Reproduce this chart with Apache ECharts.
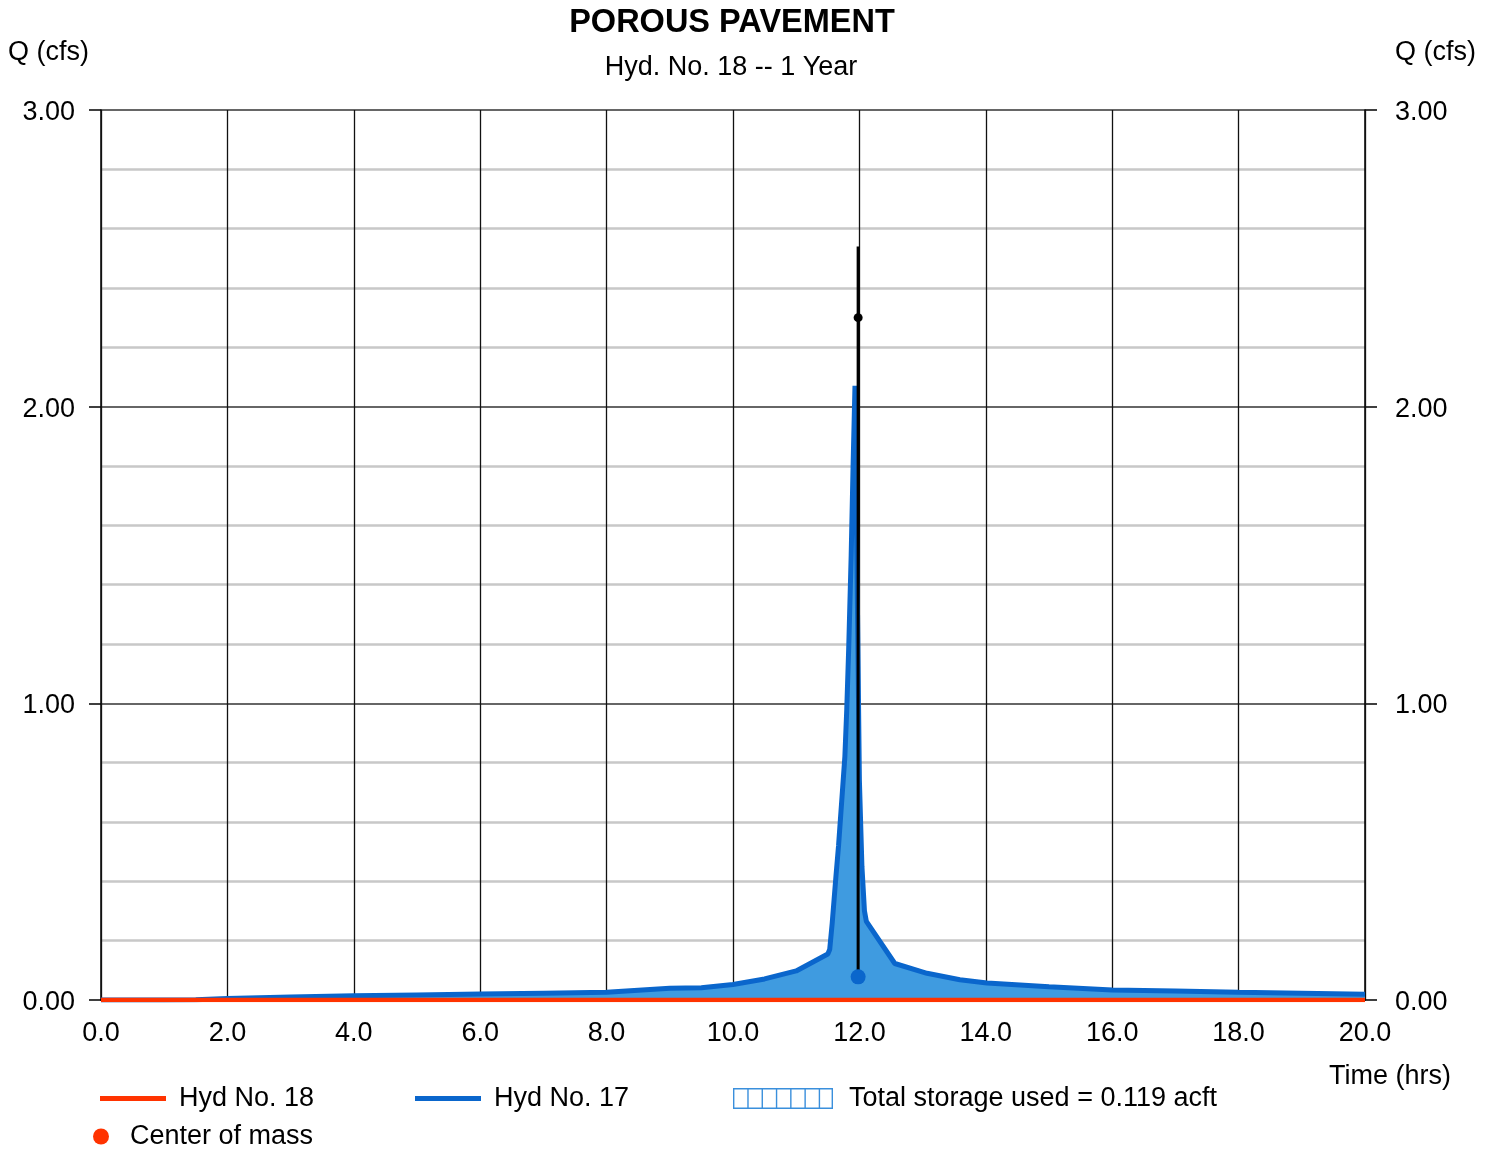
<!DOCTYPE html>
<html>
<head>
<meta charset="utf-8">
<title>POROUS PAVEMENT</title>
<script src="https://cdn.jsdelivr.net/npm/echarts@6/dist/echarts.min.js"></script>
<style>
  html, body { margin: 0; padding: 0; background: #ffffff; }
  #chart { width: 1492px; height: 1149px; }
</style>
</head>
<body>
<div id="chart"></div>
<script>
// Hydrograph time steps (hrs)
const timeHrs = [0, 1.0, 1.5, 2.0, 3.0, 4.0, 5.0, 6.0, 7.0, 8.0, 8.5, 9.0, 9.5, 10.0, 10.5, 11.0,
  11.5, 11.53, 11.57, 11.6, 11.63, 11.67, 11.7, 11.73, 11.77, 11.8, 11.83, 11.87, 11.9, 11.93,
  11.96, 12.0, 12.04, 12.08, 12.11, 12.56, 13.07, 13.59, 14.02, 15.0, 16.0, 17.0, 18.0, 19.0, 20.0];

// Hyd No. 17 - inflow to the pavement (cfs)
const inflowCfs = [0, 0, 0.001, 0.005, 0.010, 0.014, 0.017, 0.020, 0.023, 0.026, 0.033, 0.040, 0.041, 0.052, 0.071, 0.098,
  0.155, 0.17, 0.26, 0.34, 0.42, 0.52, 0.61, 0.70, 0.82, 0.98, 1.18, 1.50, 1.80, 2.07,
  1.50, 0.74, 0.45, 0.30, 0.265, 0.123, 0.090, 0.068, 0.057, 0.045, 0.034, 0.030, 0.026, 0.023, 0.019];

// Hyd No. 18 - outflow from the pavement (cfs)
const outflowCfs = timeHrs.map(() => 0);

// Vertical peak marker: time, bottom, top, dot (cfs)
const markerTime = [11.98];
const markerRange = [0.08, 2.54];
const markerDot = [2.30];
const centroidQ = [0.078];

const FONT = 'Liberation Sans, Arial, Helvetica, sans-serif';
const FS = 27;
const BLUE = '#0a66cc';
const FILL = '#3f9be0';
const RED = '#ff3300';
const HATCH = '#3a8fdc';

const pairs = (xs, ys) => xs.map((x, i) => [x, ys[i]]);

// hatched box used as the storage legend symbol
function hatchIcon() {
  const w = 100, h = 21, t = 1.4;
  let p = `M0,0H${w}V${t}H0Z M0,${h - t}H${w}V${h}H0Z `;
  const n = 7;
  for (let i = 0; i <= n; i++) {
    const x = Math.min(i * w / n, w - t);
    p += `M${x},0H${x + t}V${h}H${x}Z `;
  }
  return 'path://' + p;
}

const chart = echarts.init(document.getElementById('chart'), null, { renderer: 'canvas' });

const legendText = pad => ({ fontFamily: FONT, fontSize: FS, color: '#000', padding: [0, 0, 0, pad] });
const legendAt = (left, top, w, h, pad, item) => ({
  orient: 'horizontal', padding: 0, selectedMode: false,
  left, top, itemWidth: w, itemHeight: h,
  textStyle: legendText(pad),
  data: [item]
});

// y tick labels, nudged slightly below the tick centre
const yLabel = margin => ({
  fontFamily: FONT, fontSize: FS, color: '#000', margin,
  formatter: v => '{v|' + v.toFixed(2) + '}',
  rich: { v: { fontFamily: FONT, fontSize: FS, color: '#000', padding: [5, 0, 0, 0] } }
});

const option = {
  animation: false,
  backgroundColor: '#ffffff',
  textStyle: { fontFamily: FONT },
  grid: { left: 101, right: 127, top: 110, bottom: 149, containLabel: false },
  xAxis: {
    type: 'value',
    min: 0, max: 20, interval: 2,
    z: 1,
    axisLine: { show: true, lineStyle: { color: '#000', width: 1.5 } },
    axisTick: { show: false },
    axisLabel: {
      fontFamily: FONT, fontSize: FS, color: '#000', margin: 20,
      formatter: v => v.toFixed(1)
    },
    splitLine: { show: true, lineStyle: { color: '#111', width: 1.3 } }
  },
  yAxis: [
    {
      type: 'value', position: 'left',
      min: 0, max: 3, interval: 1,
      axisLine: { show: true, lineStyle: { color: '#000', width: 1.5 } },
      axisTick: { show: true, inside: false, length: 12, lineStyle: { color: '#000', width: 1.5 } },
      minorTick: { show: true, splitNumber: 5, length: 0 },
      minorSplitLine: { show: true, lineStyle: { color: '#c8c8c8', width: 2.5 } },
      axisLabel: yLabel(26),
      splitLine: { show: true, lineStyle: { color: '#333', width: 1.5 } }
    },
    {
      type: 'value', position: 'right',
      min: 0, max: 3, interval: 1,
      axisLine: { show: true, lineStyle: { color: '#000', width: 1.5 } },
      axisTick: { show: true, inside: false, length: 12, lineStyle: { color: '#000', width: 1.5 } },
      axisLabel: yLabel(30),
      splitLine: { show: false }
    }
  ],
  legend: [
    legendAt(100, 1085, 66, 5, 8, { name: 'Hyd No. 18', icon: 'rect' }),
    legendAt(415, 1085, 66, 5, 8, { name: 'Hyd No. 17', icon: 'rect' }),
    legendAt(733, 1085, 100, 21, 11, { name: 'Total storage used = 0.119 acft', icon: hatchIcon(), itemStyle: { color: HATCH } }),
    legendAt(93, 1123, 16, 16, 16, { name: 'Center of mass', icon: 'circle', itemStyle: { color: RED, opacity: 1 } })
  ],
  graphic: [
    { type: 'text', x: 732, y: 23, style: { text: 'POROUS PAVEMENT', font: `bold 32.5px ${FONT}`, fill: '#000', align: 'center', verticalAlign: 'middle' } },
    { type: 'text', x: 731, y: 68, style: { text: 'Hyd. No. 18 -- 1 Year', font: `${FS}px ${FONT}`, fill: '#000', align: 'center', verticalAlign: 'middle' } },
    { type: 'text', x: 8, y: 53, style: { text: 'Q (cfs)', font: `${FS}px ${FONT}`, fill: '#000', align: 'left', verticalAlign: 'middle' } },
    { type: 'text', x: 1395, y: 53, style: { text: 'Q (cfs)', font: `${FS}px ${FONT}`, fill: '#000', align: 'left', verticalAlign: 'middle' } },
    { type: 'text', x: 1329, y: 1077, style: { text: 'Time (hrs)', font: `${FS}px ${FONT}`, fill: '#000', align: 'left', verticalAlign: 'middle' } }
  ],
  series: [
    {
      name: 'Total storage used = 0.119 acft',
      type: 'line',
      data: pairs(timeHrs, inflowCfs),
      color: HATCH,
      symbol: 'none',
      lineStyle: { width: 0, opacity: 0 },
      areaStyle: { color: FILL, opacity: 1 },
      z: 1
    },
    {
      name: 'Hyd No. 17',
      type: 'line',
      data: pairs(timeHrs, inflowCfs),
      color: BLUE,
      symbol: 'none',
      lineStyle: { color: BLUE, width: 5, join: 'bevel' },
      z: 2
    },
    {
      name: 'Hyd No. 18',
      type: 'line',
      data: pairs(timeHrs, outflowCfs),
      color: RED,
      symbol: 'none',
      lineStyle: { color: RED, width: 4.5 },
      z: 3
    },
    {
      name: 'Peak marker',
      type: 'line',
      data: markerRange.map(q => [markerTime[0], q]),
      symbol: 'none',
      color: '#000',
      lineStyle: { color: '#000', width: 3 },
      z: 4
    },
    {
      name: 'Peak dot',
      type: 'scatter',
      data: markerDot.map(q => [markerTime[0], q]),
      symbolSize: 9,
      itemStyle: { color: '#000', opacity: 1 },
      z: 5
    },
    {
      name: 'Inflow centroid',
      type: 'scatter',
      data: centroidQ.map(q => [markerTime[0], q]),
      symbolSize: 15,
      itemStyle: { color: BLUE, opacity: 1 },
      z: 5
    },
    {
      name: 'Center of mass',
      type: 'scatter',
      data: [],
      color: RED,
      itemStyle: { color: RED, opacity: 1 },
      z: 5
    }
  ]
};

chart.setOption(option);
</script>
</body>
</html>
